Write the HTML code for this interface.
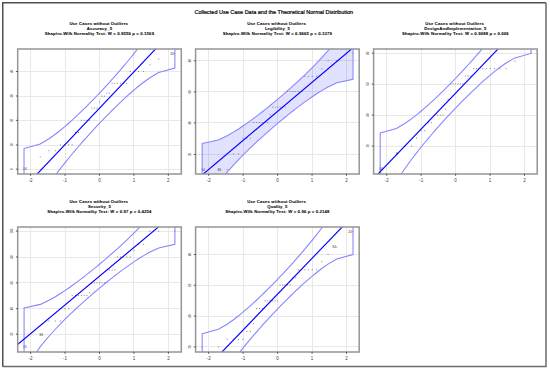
<!DOCTYPE html><html><head><meta charset="utf-8"><style>html,body{margin:0;padding:0;background:#fff;width:550px;height:370px;overflow:hidden}svg{display:block}text{font-family:"Liberation Sans",sans-serif}</style></head><body>
<svg width="550" height="370" viewBox="0 0 550 370">
<rect x="0" y="0" width="550" height="370" fill="#fff"/>
<path d="M2.75 366.8V2.75H546" fill="none" stroke="#505050" stroke-width="1.5"/>
<path d="M2.75 366.6H546V2.75" fill="none" stroke="#6a6a6a" stroke-width="1.5"/>
<text x="273.8" y="14.4" font-size="5.5" text-anchor="middle" fill="#000" stroke="#000" stroke-width="0.2">Collected Use Case Data and the Theoretical Normal Distribution</text>
<g font-weight="bold" font-size="4.3" letter-spacing="0.115" text-anchor="middle" fill="#000" stroke="#000" stroke-width="0.06">
<text x="98.7" y="25">Use Cases without Outliers</text>
<text x="99.5" y="29.85">Accuracy_5</text>
<text x="99.5" y="35.1">Shapiro-Wilk Normality Test: W = 0.9556 p = 0.1569</text>
</g>
<clipPath id="clip0"><rect x="17.7" y="49.0" width="163.6" height="125"/></clipPath>
<g clip-path="url(#clip0)">
<path d="M30.5 49.0V174.0M65.5 49.0V174.0M99.5 49.0V174.0M133.5 49.0V174.0M168.5 49.0V174.0M17.7 71.5H181.3M17.7 96.5H181.3M17.7 120.5H181.3M17.7 145.5H181.3M17.7 169.5H181.3" stroke="#e8e8e8" stroke-width="1" fill="none"/>
<path d="M23.53 169.1h1M39.75 156.9h1M48.47 150.8h1M54.8 150.8h1M59.91 144.9h1M64.28 144.9h1M68.16 144.9h1M71.68 144.9h1M74.93 132.5h1M77.99 132.5h1M80.88 120.3h1M83.66 120.3h1M86.34 120.3h1M88.94 120.3h1M91.49 108.1h1M94 108.1h1M96.48 108.1h1M98.95 102.1h1M101.42 96.2h1M103.9 96.2h1M106.41 93.2h1M108.96 93.2h1M111.56 83.3h1M114.24 83.3h1M117.02 83.3h1M119.91 83.3h1M122.97 83.3h1M126.22 83.3h1M129.74 71.5h1M133.62 71.5h1M137.99 71.5h1M143.1 71.5h1M149.43 64.8h1M158.15 59.2h1M174.37 53.5h1" stroke="#777" stroke-width="0.9" fill="none"/>
<g font-size="3.4" text-anchor="middle" fill="#333">
<text x="24.93" y="170.2">10</text>
<text x="172.07" y="54.6">20</text>
</g>
<path d="M24.03 148.49L40.25 143.96L48.97 138.78L55.3 134.26L60.41 130.24L64.78 126.61L68.66 123.24L72.18 120.08L75.43 117.09L78.49 114.22L81.38 111.44L84.16 108.74L86.84 106.09L89.44 103.48L91.99 100.89L94.5 98.32L96.98 95.74L99.45 93.15L101.92 90.53L104.4 87.87L106.91 85.15L109.46 82.35L112.06 79.47L114.74 76.46L117.52 73.3L120.41 69.96L123.47 66.39L126.72 62.51L130.24 58.24L134.12 53.43L138.49 47.84L143.6 41.06L149.93 32.22L158.65 18.99L174.87 -10.73L174.87 68.01L158.65 72.54L149.93 77.72L143.6 82.24L138.49 86.25L134.12 89.89L130.24 93.26L126.72 96.41L123.47 99.41L120.41 102.28L117.52 105.06L114.74 107.76L112.06 110.41L109.46 113.02L106.91 115.6L104.4 118.18L101.92 120.75L99.45 123.35L96.98 125.97L94.5 128.63L91.99 131.35L89.44 134.14L86.84 137.03L84.16 140.04L81.38 143.19L78.49 146.53L75.43 150.11L72.18 153.98L68.66 158.26L64.78 163.07L60.41 168.66L55.3 175.44L48.97 184.28L40.25 197.51L24.03 227.22Z" fill="none" stroke="#8484ff" stroke-width="1.05"/>
<line x1="7.7" y1="205.09" x2="191.3" y2="11.3" stroke="#0000ff" stroke-width="1.15"/>
</g>
<rect x="17.7" y="49" width="163.6" height="125" fill="none" stroke="#959595" stroke-width="1.5"/>
<path d="M30.55 174.0v1.8M65 174.0v1.8M99.45 174.0v1.8M133.9 174.0v1.8M168.35 174.0v1.8M17.7 71.5h-1.8M17.7 96h-1.8M17.7 120.4h-1.8M17.7 145h-1.8M17.7 169.1h-1.8" stroke="#333" stroke-width="0.8" fill="none"/>
<g font-size="4.5" text-anchor="middle" fill="#444">
<text x="30.55" y="182.4">-2</text>
<text x="65" y="182.4">-1</text>
<text x="99.45" y="182.4">0</text>
<text x="133.9" y="182.4">1</text>
<text x="168.35" y="182.4">2</text>
</g>
<g font-size="2.9" text-anchor="middle" fill="#333">
<text x="12.1" y="71.5" transform="rotate(-90 12.1 71.5)" dy="0.95">40</text>
<text x="12.1" y="96" transform="rotate(-90 12.1 96)" dy="0.95">30</text>
<text x="12.1" y="120.4" transform="rotate(-90 12.1 120.4)" dy="0.95">20</text>
<text x="12.1" y="145" transform="rotate(-90 12.1 145)" dy="0.95">10</text>
<text x="12.1" y="169.1" transform="rotate(-90 12.1 169.1)" dy="0.95">0</text>
</g>
<g font-weight="bold" font-size="4.3" letter-spacing="0.115" text-anchor="middle" fill="#000" stroke="#000" stroke-width="0.06">
<text x="276.6" y="25">Use Cases without Outliers</text>
<text x="277.4" y="29.85">Legibility_5</text>
<text x="277.4" y="35.1">Shapiro-Wilk Normality Test: W = 0.9665 p = 0.3379</text>
</g>
<clipPath id="clip1"><rect x="195.6" y="49.0" width="163.6" height="125"/></clipPath>
<g clip-path="url(#clip1)">
<path d="M208.5 49.0V174.0M243.5 49.0V174.0M277.5 49.0V174.0M312.5 49.0V174.0M346.5 49.0V174.0M195.6 60.5H359.2M195.6 91.5H359.2M195.6 122.5H359.2M195.6 154.5H359.2" stroke="#e8e8e8" stroke-width="1" fill="none"/>
<path d="M202.18 143.52L218.4 139.9L227.12 135.76L233.45 132.15L238.56 128.95L242.93 126.04L246.81 123.35L250.33 120.83L253.58 118.43L256.64 116.14L259.53 113.92L262.31 111.76L264.99 109.65L267.59 107.56L270.14 105.5L272.65 103.44L275.13 101.38L277.6 99.31L280.07 97.22L282.55 95.09L285.06 92.92L287.61 90.69L290.21 88.38L292.89 85.98L295.67 83.46L298.56 80.79L301.62 77.93L304.87 74.84L308.39 71.42L312.27 67.58L316.64 63.11L321.75 57.7L328.08 50.64L336.8 40.07L353.02 16.33L353.02 79.23L336.8 82.84L328.08 86.99L321.75 90.6L316.64 93.8L312.27 96.71L308.39 99.4L304.87 101.92L301.62 104.31L298.56 106.61L295.67 108.82L292.89 110.98L290.21 113.1L287.61 115.18L285.06 117.25L282.55 119.31L280.07 121.36L277.6 123.43L275.13 125.53L272.65 127.66L270.14 129.83L267.59 132.06L264.99 134.37L262.31 136.77L259.53 139.29L256.64 141.96L253.58 144.81L250.33 147.91L246.81 151.32L242.93 155.17L238.56 159.63L233.45 165.05L227.12 172.11L218.4 182.68L202.18 206.42Z" fill="#0000ff" fill-opacity="0.115" stroke="none"/>
<path d="M201.68 169.5h1M217.9 169.5h1M226.62 169.5h1M232.95 153.9h1M238.06 153.9h1M242.43 138.2h1M246.31 138.2h1M249.83 138.2h1M253.08 122.5h1M256.14 122.5h1M259.03 122.5h1M261.81 122.5h1M264.49 122.5h1M267.09 122.5h1M269.64 114.7h1M272.15 107.1h1M274.63 107.1h1M277.1 107.1h1M279.57 107.1h1M282.05 107.1h1M284.56 107.1h1M287.11 91.5h1M289.71 91.5h1M292.39 91.5h1M295.17 91.5h1M298.06 91.5h1M301.12 91.5h1M304.37 76.4h1M307.89 76.4h1M311.77 76.4h1M316.14 76.4h1M321.25 68.7h1M327.58 60.6h1M336.3 60.6h1M352.52 53.2h1" stroke="#777" stroke-width="0.9" fill="none"/>
<g font-size="3.4" text-anchor="middle" fill="#333">
<text x="203.08" y="170.6">14</text>
<text x="219.3" y="170.6">16</text>
</g>
<path d="M202.18 143.52L218.4 139.9L227.12 135.76L233.45 132.15L238.56 128.95L242.93 126.04L246.81 123.35L250.33 120.83L253.58 118.43L256.64 116.14L259.53 113.92L262.31 111.76L264.99 109.65L267.59 107.56L270.14 105.5L272.65 103.44L275.13 101.38L277.6 99.31L280.07 97.22L282.55 95.09L285.06 92.92L287.61 90.69L290.21 88.38L292.89 85.98L295.67 83.46L298.56 80.79L301.62 77.93L304.87 74.84L308.39 71.42L312.27 67.58L316.64 63.11L321.75 57.7L328.08 50.64L336.8 40.07L353.02 16.33L353.02 79.23L336.8 82.84L328.08 86.99L321.75 90.6L316.64 93.8L312.27 96.71L308.39 99.4L304.87 101.92L301.62 104.31L298.56 106.61L295.67 108.82L292.89 110.98L290.21 113.1L287.61 115.18L285.06 117.25L282.55 119.31L280.07 121.36L277.6 123.43L275.13 125.53L272.65 127.66L270.14 129.83L267.59 132.06L264.99 134.37L262.31 136.77L259.53 139.29L256.64 141.96L253.58 144.81L250.33 147.91L246.81 151.32L242.93 155.17L238.56 159.63L233.45 165.05L227.12 172.11L218.4 182.68L202.18 206.42Z" fill="none" stroke="#8484ff" stroke-width="1.05"/>
<line x1="185.6" y1="188.95" x2="369.2" y2="34.14" stroke="#0000ff" stroke-width="1.15"/>
</g>
<rect x="195.6" y="49" width="163.6" height="125" fill="none" stroke="#959595" stroke-width="1.5"/>
<path d="M208.7 174.0v1.8M243.15 174.0v1.8M277.6 174.0v1.8M312.05 174.0v1.8M346.5 174.0v1.8M195.6 60.7h-1.8M195.6 91.9h-1.8M195.6 122.9h-1.8M195.6 154.5h-1.8" stroke="#333" stroke-width="0.8" fill="none"/>
<g font-size="4.5" text-anchor="middle" fill="#444">
<text x="208.7" y="182.4">-2</text>
<text x="243.15" y="182.4">-1</text>
<text x="277.6" y="182.4">0</text>
<text x="312.05" y="182.4">1</text>
<text x="346.5" y="182.4">2</text>
</g>
<g font-size="2.9" text-anchor="middle" fill="#333">
<text x="190" y="60.7" transform="rotate(-90 190 60.7)" dy="0.95">80</text>
<text x="190" y="91.9" transform="rotate(-90 190 91.9)" dy="0.95">60</text>
<text x="190" y="122.9" transform="rotate(-90 190 122.9)" dy="0.95">40</text>
<text x="190" y="154.5" transform="rotate(-90 190 154.5)" dy="0.95">20</text>
</g>
<g font-weight="bold" font-size="4.3" letter-spacing="0.115" text-anchor="middle" fill="#000" stroke="#000" stroke-width="0.06">
<text x="454.6" y="25">Use Cases without Outliers</text>
<text x="455.4" y="29.85">DesignAndImplementation_5</text>
<text x="455.4" y="35.1">Shapiro-Wilk Normality Test: W = 0.9088 p = 0.006</text>
</g>
<clipPath id="clip2"><rect x="373.6" y="49.0" width="163.6" height="125"/></clipPath>
<g clip-path="url(#clip2)">
<path d="M386.5 49.0V174.0M421.5 49.0V174.0M455.5 49.0V174.0M490.5 49.0V174.0M524.5 49.0V174.0M373.6 53.5H537.2M373.6 84.5H537.2M373.6 115.5H537.2M373.6 146.5H537.2" stroke="#e8e8e8" stroke-width="1" fill="none"/>
<path d="M379.68 169.1h1M395.9 153.8h1M404.62 145.9h1M410.95 145.9h1M416.06 138h1M420.43 130.6h1M424.31 130.6h1M427.83 122.7h1M431.08 122.7h1M434.14 115.1h1M437.03 115.1h1M439.81 115.1h1M442.49 115.1h1M445.09 109.2h1M447.64 99.5h1M450.15 83.9h1M452.63 83.9h1M455.1 83.9h1M457.57 83.9h1M460.05 83.9h1M462.56 83.9h1M465.11 76.1h1M467.71 76.1h1M470.39 76.1h1M473.17 68.6h1M476.06 68.6h1M479.12 68.6h1M482.37 68.6h1M485.89 68.6h1M489.77 68.6h1M494.14 68.6h1M499.25 68.6h1M505.58 68.6h1M514.3 61.1h1M530.52 53.3h1" stroke="#777" stroke-width="0.9" fill="none"/>
<g font-size="3.4" text-anchor="middle" fill="#333">
<text x="381.08" y="170.2">10</text>
<text x="397.3" y="154.9">9</text>
</g>
<path d="M380.18 132.89L396.4 128.42L405.12 123.3L411.45 118.84L416.56 114.88L420.93 111.28L424.81 107.96L428.33 104.85L431.58 101.89L434.64 99.05L437.53 96.31L440.31 93.65L442.99 91.03L445.59 88.46L448.14 85.91L450.65 83.36L453.13 80.82L455.6 78.26L458.07 75.67L460.55 73.05L463.06 70.36L465.61 67.6L468.21 64.75L470.89 61.78L473.67 58.67L476.56 55.37L479.62 51.84L482.87 48.02L486.39 43.8L490.27 39.05L494.64 33.53L499.75 26.84L506.08 18.11L514.8 5.05L531.02 -24.28L531.02 53.44L514.8 57.91L506.08 63.03L499.75 67.49L494.64 71.45L490.27 75.04L486.39 78.37L482.87 81.48L479.62 84.44L476.56 87.27L473.67 90.01L470.89 92.68L468.21 95.3L465.61 97.87L463.06 100.42L460.55 102.97L458.07 105.51L455.6 108.07L453.13 110.66L450.65 113.28L448.14 115.97L445.59 118.73L442.99 121.58L440.31 124.55L437.53 127.66L434.64 130.96L431.58 134.49L428.33 138.31L424.81 142.53L420.93 147.28L416.56 152.8L411.45 159.49L405.12 168.22L396.4 181.28L380.18 210.61Z" fill="none" stroke="#8484ff" stroke-width="1.05"/>
<line x1="363.6" y1="189.02" x2="547.2" y2="-2.27" stroke="#0000ff" stroke-width="1.15"/>
</g>
<rect x="373.6" y="49" width="163.6" height="125" fill="none" stroke="#959595" stroke-width="1.5"/>
<path d="M386.7 174.0v1.8M421.15 174.0v1.8M455.6 174.0v1.8M490.05 174.0v1.8M524.5 174.0v1.8M373.6 53.2h-1.8M373.6 84.1h-1.8M373.6 115.1h-1.8M373.6 146h-1.8" stroke="#333" stroke-width="0.8" fill="none"/>
<g font-size="4.5" text-anchor="middle" fill="#444">
<text x="386.7" y="182.4">-2</text>
<text x="421.15" y="182.4">-1</text>
<text x="455.6" y="182.4">0</text>
<text x="490.05" y="182.4">1</text>
<text x="524.5" y="182.4">2</text>
</g>
<g font-size="2.9" text-anchor="middle" fill="#333">
<text x="368" y="53.2" transform="rotate(-90 368 53.2)" dy="0.95">80</text>
<text x="368" y="84.1" transform="rotate(-90 368 84.1)" dy="0.95">60</text>
<text x="368" y="115.1" transform="rotate(-90 368 115.1)" dy="0.95">40</text>
<text x="368" y="146" transform="rotate(-90 368 146)" dy="0.95">20</text>
</g>
<g font-weight="bold" font-size="4.3" letter-spacing="0.115" text-anchor="middle" fill="#000" stroke="#000" stroke-width="0.06">
<text x="98.7" y="203">Use Cases without Outliers</text>
<text x="99.5" y="207.85">Security_5</text>
<text x="99.5" y="213.1">Shapiro-Wilk Normality Test: W = 0.97 p = 0.4254</text>
</g>
<clipPath id="clip3"><rect x="17.7" y="227.0" width="163.6" height="125"/></clipPath>
<g clip-path="url(#clip3)">
<path d="M30.5 227.0V352.0M65.5 227.0V352.0M99.5 227.0V352.0M133.5 227.0V352.0M168.5 227.0V352.0M17.7 231.5H181.3M17.7 257.5H181.3M17.7 282.5H181.3M17.7 308.5H181.3M17.7 334.5H181.3" stroke="#e8e8e8" stroke-width="1" fill="none"/>
<path d="M23.58 347.3h1M39.8 334.4h1M48.52 321h1M54.85 321h1M59.96 321h1M64.33 308.8h1M68.21 308.8h1M71.73 295.4h1M74.98 295.4h1M78.04 295.4h1M80.93 295.4h1M83.71 295.4h1M86.39 295.4h1M88.99 292.7h1M91.54 282.9h1M94.05 282.9h1M96.53 282.9h1M99 282.9h1M101.47 282.9h1M103.95 282.9h1M106.46 270h1M109.01 270h1M111.61 270h1M114.29 270h1M117.07 257h1M119.96 257h1M123.02 257h1M126.27 257h1M129.79 257h1M133.67 250.4h1M138.04 244.3h1M143.15 244.3h1M149.48 231.1h1M158.2 231.1h1M174.42 231.1h1" stroke="#777" stroke-width="0.9" fill="none"/>
<g font-size="3.4" text-anchor="middle" fill="#333">
<text x="24.98" y="348.4">15</text>
<text x="41.2" y="335.5">16</text>
</g>
<path d="M24.08 307.96L40.3 304.38L49.02 300.29L55.35 296.72L60.46 293.55L64.83 290.67L68.71 288.01L72.23 285.52L75.48 283.15L78.54 280.88L81.43 278.69L84.21 276.55L86.89 274.46L89.49 272.4L92.04 270.36L94.55 268.32L97.03 266.29L99.5 264.24L101.97 262.17L104.45 260.07L106.96 257.92L109.51 255.71L112.11 253.43L114.79 251.05L117.57 248.56L120.46 245.92L123.52 243.1L126.77 240.03L130.29 236.66L134.17 232.85L138.54 228.44L143.65 223.08L149.98 216.1L158.7 205.65L174.92 182.17L174.92 244.37L158.7 247.95L149.98 252.05L143.65 255.62L138.54 258.79L134.17 261.66L130.29 264.32L126.77 266.82L123.52 269.18L120.46 271.45L117.57 273.65L114.79 275.78L112.11 277.87L109.51 279.94L106.96 281.98L104.45 284.01L101.97 286.05L99.5 288.1L97.03 290.17L94.55 292.27L92.04 294.42L89.49 296.63L86.89 298.91L84.21 301.29L81.43 303.78L78.54 306.42L75.48 309.24L72.23 312.3L68.71 315.68L64.83 319.48L60.46 323.9L55.35 329.26L49.02 336.24L40.3 346.69L24.08 370.17Z" fill="none" stroke="#8484ff" stroke-width="1.05"/>
<line x1="7.7" y1="352.72" x2="191.3" y2="199.61" stroke="#0000ff" stroke-width="1.15"/>
</g>
<rect x="17.7" y="227" width="163.6" height="125" fill="none" stroke="#959595" stroke-width="1.5"/>
<path d="M30.6 352.0v1.8M65.05 352.0v1.8M99.5 352.0v1.8M133.95 352.0v1.8M168.4 352.0v1.8M17.7 231.1h-1.8M17.7 257h-1.8M17.7 282.9h-1.8M17.7 308.7h-1.8M17.7 334.2h-1.8" stroke="#333" stroke-width="0.8" fill="none"/>
<g font-size="4.5" text-anchor="middle" fill="#444">
<text x="30.6" y="360.4">-2</text>
<text x="65.05" y="360.4">-1</text>
<text x="99.5" y="360.4">0</text>
<text x="133.95" y="360.4">1</text>
<text x="168.4" y="360.4">2</text>
</g>
<g font-size="2.9" text-anchor="middle" fill="#333">
<text x="12.1" y="231.1" transform="rotate(-90 12.1 231.1)" dy="0.95">100</text>
<text x="12.1" y="257" transform="rotate(-90 12.1 257)" dy="0.95">80</text>
<text x="12.1" y="282.9" transform="rotate(-90 12.1 282.9)" dy="0.95">60</text>
<text x="12.1" y="308.7" transform="rotate(-90 12.1 308.7)" dy="0.95">40</text>
<text x="12.1" y="334.2" transform="rotate(-90 12.1 334.2)" dy="0.95">20</text>
</g>
<g font-weight="bold" font-size="4.3" letter-spacing="0.115" text-anchor="middle" fill="#000" stroke="#000" stroke-width="0.06">
<text x="276.6" y="203">Use Cases without Outliers</text>
<text x="277.4" y="207.85">Quality_5</text>
<text x="277.4" y="213.1">Shapiro-Wilk Normality Test: W = 0.96 p = 0.2148</text>
</g>
<clipPath id="clip4"><rect x="195.6" y="227.0" width="163.6" height="125"/></clipPath>
<g clip-path="url(#clip4)">
<path d="M208.5 227.0V352.0M243.5 227.0V352.0M277.5 227.0V352.0M312.5 227.0V352.0M346.5 227.0V352.0M195.6 254.5H359.2M195.6 285.5H359.2M195.6 316.5H359.2M195.6 346.5H359.2" stroke="#e8e8e8" stroke-width="1" fill="none"/>
<path d="M201.68 347h1M217.9 347h1M226.62 339.4h1M232.95 339.4h1M238.06 339.4h1M242.43 339.4h1M246.31 331.5h1M249.83 331.5h1M253.08 323.6h1M256.14 308.5h1M259.03 308.5h1M261.81 308.5h1M264.49 300.8h1M267.09 300.8h1M269.64 300.8h1M272.15 300.8h1M274.63 300.8h1M277.1 300.8h1M279.57 285h1M282.05 285h1M284.56 285h1M287.11 285h1M289.71 285h1M292.39 277.7h1M295.17 277.7h1M298.06 269.8h1M301.12 269.8h1M304.37 269.8h1M307.89 269.8h1M311.77 269.8h1M316.14 269.8h1M321.25 261.7h1M327.58 254.5h1M336.3 247.1h1M352.52 231.7h1" stroke="#777" stroke-width="0.9" fill="none"/>
<g font-size="3.4" text-anchor="middle" fill="#333">
<text x="334" y="248.2">34</text>
<text x="350.22" y="232.8">20</text>
</g>
<path d="M202.18 333.75L218.4 329.29L227.12 324.19L233.45 319.73L238.56 315.79L242.93 312.2L246.81 308.89L250.33 305.78L253.58 302.83L256.64 300L259.53 297.27L262.31 294.61L264.99 292L267.59 289.43L270.14 286.89L272.65 284.35L275.13 281.81L277.6 279.26L280.07 276.68L282.55 274.06L285.06 271.38L287.61 268.63L290.21 265.78L292.89 262.82L295.67 259.72L298.56 256.43L301.62 252.91L304.87 249.09L308.39 244.89L312.27 240.15L316.64 234.64L321.75 227.97L328.08 219.26L336.8 206.24L353.02 176.98L353.02 254.5L336.8 258.96L328.08 264.07L321.75 268.52L316.64 272.47L312.27 276.05L308.39 279.36L304.87 282.47L301.62 285.42L298.56 288.25L295.67 290.99L292.89 293.65L290.21 296.25L287.61 298.82L285.06 301.37L282.55 303.9L280.07 306.44L277.6 308.99L275.13 311.57L272.65 314.2L270.14 316.87L267.59 319.62L264.99 322.47L262.31 325.43L259.53 328.54L256.64 331.82L253.58 335.34L250.33 339.16L246.81 343.37L242.93 348.11L238.56 353.61L233.45 360.29L227.12 368.99L218.4 382.02L202.18 411.28Z" fill="none" stroke="#8484ff" stroke-width="1.05"/>
<line x1="185.6" y1="389.74" x2="369.2" y2="198.93" stroke="#0000ff" stroke-width="1.15"/>
</g>
<rect x="195.6" y="227" width="163.6" height="125" fill="none" stroke="#959595" stroke-width="1.5"/>
<path d="M208.7 352.0v1.8M243.15 352.0v1.8M277.6 352.0v1.8M312.05 352.0v1.8M346.5 352.0v1.8M195.6 254.5h-1.8M195.6 285.3h-1.8M195.6 316.1h-1.8M195.6 346.9h-1.8" stroke="#333" stroke-width="0.8" fill="none"/>
<g font-size="4.5" text-anchor="middle" fill="#444">
<text x="208.7" y="360.4">-2</text>
<text x="243.15" y="360.4">-1</text>
<text x="277.6" y="360.4">0</text>
<text x="312.05" y="360.4">1</text>
<text x="346.5" y="360.4">2</text>
</g>
<g font-size="2.9" text-anchor="middle" fill="#333">
<text x="190" y="254.5" transform="rotate(-90 190 254.5)" dy="0.95">80</text>
<text x="190" y="285.3" transform="rotate(-90 190 285.3)" dy="0.95">60</text>
<text x="190" y="316.1" transform="rotate(-90 190 316.1)" dy="0.95">40</text>
<text x="190" y="346.9" transform="rotate(-90 190 346.9)" dy="0.95">20</text>
</g>
</svg></body></html>
